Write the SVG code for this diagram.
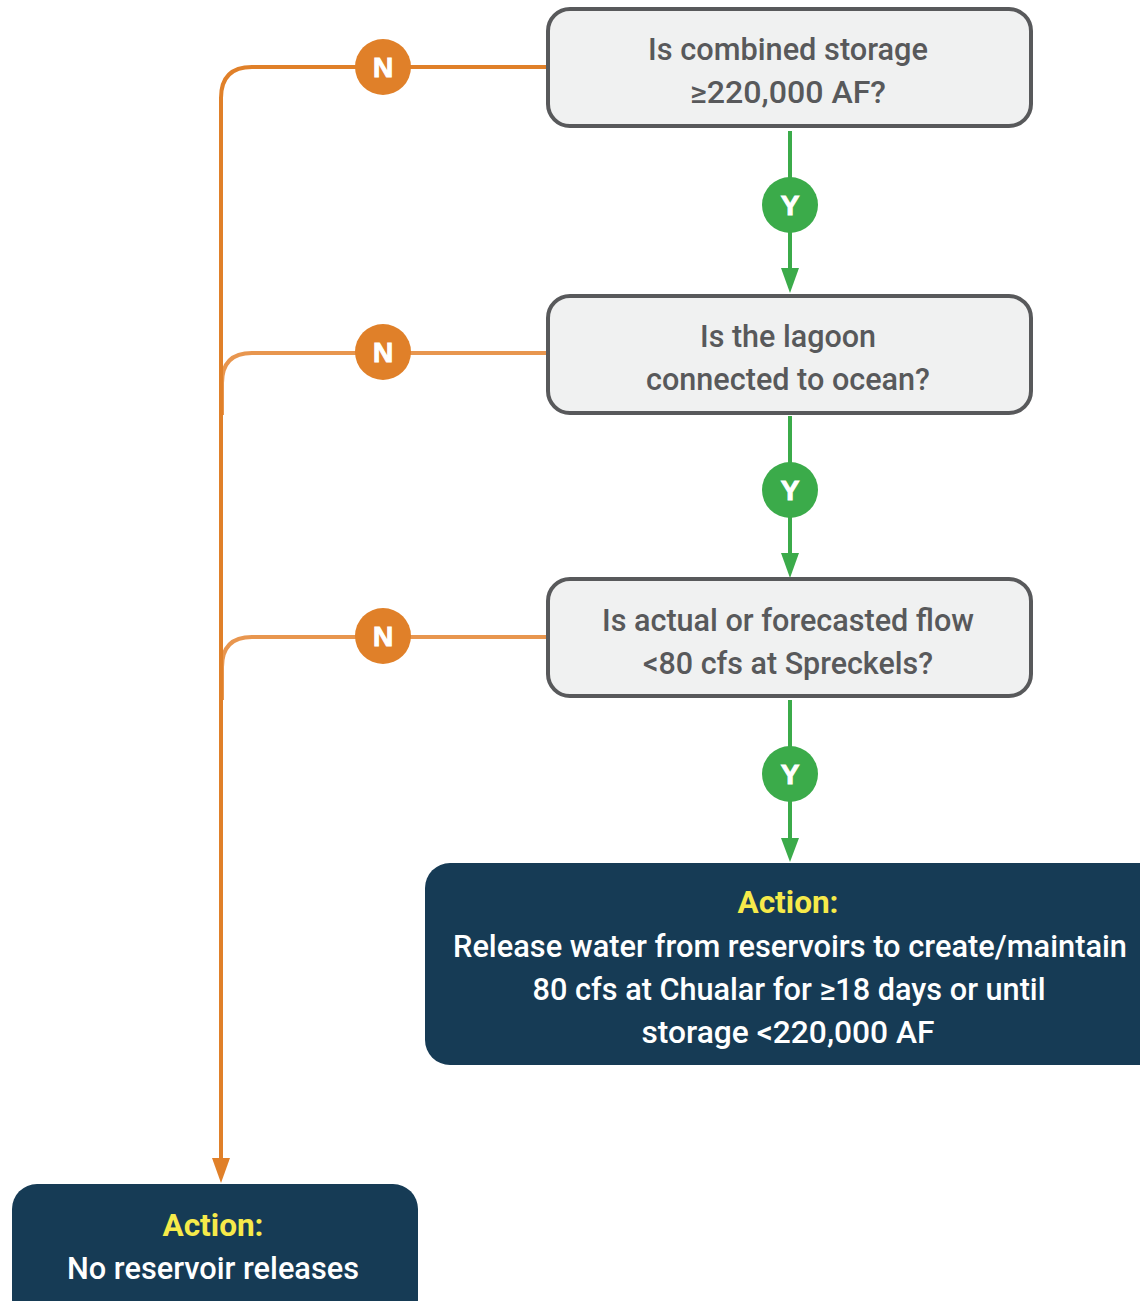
<svg xmlns="http://www.w3.org/2000/svg" width="1140" height="1301" viewBox="0 0 1140 1301">
  <defs>
    <style>
      .q { fill: #f0f1f1; stroke: #58595b; stroke-width: 4; }
      .qt { font-family: Roboto, "Liberation Sans", sans-serif; font-size: 31px; font-weight: 500; fill: #58595b; text-anchor: middle; }
      .act { fill: #163b55; }
      .ah { font-family: Roboto, "Liberation Sans", sans-serif; font-size: 31px; font-weight: bold; fill: #f6ea4a; text-anchor: middle; }
      .at { font-family: Roboto, "Liberation Sans", sans-serif; font-size: 31px; font-weight: 500; fill: #ffffff; text-anchor: middle; }
      .no { stroke: #e08029; stroke-width: 4; fill: none; }
      .nob { stroke: #e8964f; stroke-width: 4; fill: none; }
      .yes { stroke: #3bab4a; stroke-width: 4; fill: none; }
      .nc { fill: #e08029; }
      .yc { fill: #3bab4a; }
      .lbl { font-family: "Liberation Sans", Arial, sans-serif; font-size: 28px; font-weight: bold; fill: #ffffff; text-anchor: middle; stroke: #ffffff; stroke-width: 1; }
    </style>
  </defs>

  <!-- connectors -->
  <g id="connectors">
    <!-- N branches into the left trunk -->
    <path class="nob" d="M548,353 H252 Q222,353 222,383 V415"/>
    <path class="nob" d="M548,637 H252 Q222,637 222,667 V700"/>
    <path class="no" d="M548,67 H252 Q221,67 221,98 V1160"/>
    <path d="M212,1158 L230,1158 L221,1183 Z" fill="#e08029"/>
    <!-- Y links -->
    <path class="yes" d="M790,131 V270"/>
    <path d="M781,268 L799,268 L790,293 Z" fill="#3bab4a"/>
    <path class="yes" d="M790,416 V555"/>
    <path d="M781,553 L799,553 L790,578 Z" fill="#3bab4a"/>
    <path class="yes" d="M790,700 V840"/>
    <path d="M781,838 L799,838 L790,862 Z" fill="#3bab4a"/>
  </g>

  <!-- decision labels -->
  <g id="n1"><circle class="nc" cx="383" cy="67" r="28"/><text class="lbl" x="383" y="77">N</text></g>
  <g id="n2"><circle class="nc" cx="383" cy="352" r="28"/><text class="lbl" x="383" y="362">N</text></g>
  <g id="n3"><circle class="nc" cx="383" cy="636" r="28"/><text class="lbl" x="383" y="646">N</text></g>
  <g id="y1"><circle class="yc" cx="790" cy="205" r="28"/><text class="lbl" x="790" y="215">Y</text></g>
  <g id="y2"><circle class="yc" cx="790" cy="490" r="28"/><text class="lbl" x="790" y="500">Y</text></g>
  <g id="y3"><circle class="yc" cx="790" cy="774" r="28"/><text class="lbl" x="790" y="784">Y</text></g>

  <!-- questions -->
  <g id="q-storage">
    <rect class="q" x="548" y="9" width="483" height="117" rx="22"/>
    <text class="qt" x="788" y="60" textLength="280" lengthAdjust="spacingAndGlyphs">Is combined storage</text>
    <text class="qt" x="788" y="103" textLength="196" lengthAdjust="spacingAndGlyphs">≥220,000 AF?</text>
  </g>
  <g id="q-lagoon">
    <rect class="q" x="548" y="296" width="483" height="117" rx="22"/>
    <text class="qt" x="788" y="347" textLength="176" lengthAdjust="spacingAndGlyphs">Is the lagoon</text>
    <text class="qt" x="788" y="390" textLength="284" lengthAdjust="spacingAndGlyphs">connected to ocean?</text>
  </g>
  <g id="q-flow">
    <rect class="q" x="548" y="579" width="483" height="117" rx="22"/>
    <text class="qt" x="788" y="631" textLength="372" lengthAdjust="spacingAndGlyphs">Is actual or forecasted flow</text>
    <text class="qt" x="788" y="674" textLength="290" lengthAdjust="spacingAndGlyphs">&lt;80 cfs at Spreckels?</text>
  </g>

  <!-- actions -->
  <g id="act-release">
    <rect class="act" x="425" y="863" width="740" height="202" rx="25"/>
    <text class="ah" x="788" y="913" textLength="101" lengthAdjust="spacingAndGlyphs">Action:</text>
    <text class="at" x="790" y="957" textLength="674" lengthAdjust="spacingAndGlyphs">Release water from reservoirs to create/maintain</text>
    <text class="at" x="789" y="1000" textLength="513" lengthAdjust="spacingAndGlyphs">80 cfs at Chualar for ≥18 days or until</text>
    <text class="at" x="788" y="1043" textLength="293" lengthAdjust="spacingAndGlyphs">storage &lt;220,000 AF</text>
  </g>
  <g id="act-none">
    <rect class="act" x="12" y="1184" width="406" height="140" rx="25"/>
    <text class="ah" x="213" y="1236" textLength="101" lengthAdjust="spacingAndGlyphs">Action:</text>
    <text class="at" x="213" y="1279" textLength="292" lengthAdjust="spacingAndGlyphs">No reservoir releases</text>
  </g>
</svg>
